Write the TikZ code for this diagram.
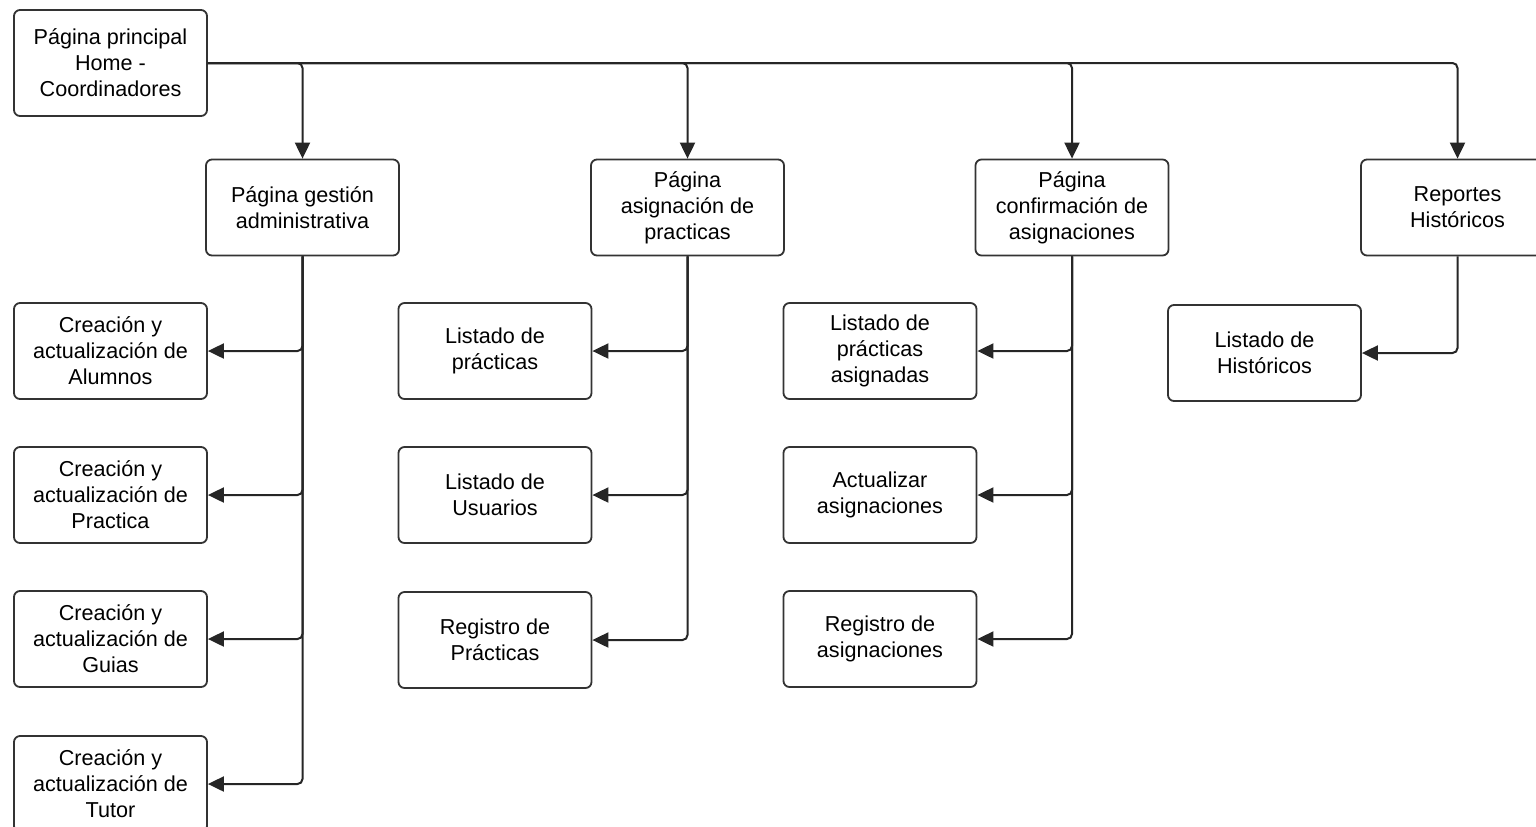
\documentclass[tikz,border=0pt]{standalone}
\usepackage{fontspec}
\setmainfont{Liberation Sans}
\usepackage{tikz}
\usetikzlibrary{arrows.meta}

\tikzset{
  caja/.style={draw=black!80,line width=0.9pt,rounded corners=3pt,fill=white,
    minimum width=96.5pt,minimum height=48pt,inner sep=0pt,align=center,
    font=\fontsize{10.8}{13}\selectfont},
  flecha/.style={draw=black!85,line width=1pt,rounded corners=2.5pt,
    arrows={-Triangle[length=8pt,width=7.5pt]}}
}

\begin{document}
\begin{tikzpicture}[x=0.5pt,y=-0.5pt]
    \clip (0,0) rectangle (1536,826);
    \fill[white] (0,0) rectangle (1536,826);
    % nivel 1
    \node[caja,minimum height=53pt] (home) at (110.5,63) {Página principal\\Home -\\Coordinadores};
    % nivel 2
    \node[caja] (gestion) at (302.5,207.5) {Página gestión\\administrativa};
    \node[caja] (asignacion) at (687.5,207.5) {Página\\asignación de\\practicas};
    \node[caja] (confirmacion) at (1072,207.5) {Página\\confirmación de\\asignaciones};
    \node[caja] (reportes) at (1457.5,207.5) {Reportes\\Históricos};
    % hijos de gestion
    \node[caja] (alumnos) at (110.5,351) {Creación y\\actualización de\\Alumnos};
    \node[caja] (practica) at (110.5,495) {Creación y\\actualización de\\Practica};
    \node[caja] (guias) at (110.5,639) {Creación y\\actualización de\\Guias};
    \node[caja] (tutor) at (110.5,784) {Creación y\\actualización de\\Tutor};
    % hijos de asignacion
    \node[caja] (listPract) at (495,351) {Listado de\\prácticas};
    \node[caja] (listUsu) at (495,495) {Listado de\\Usuarios};
    \node[caja] (regPract) at (495,640) {Registro de\\Prácticas};
    % hijos de confirmacion
    \node[caja] (listAsig) at (880,351) {Listado de\\prácticas\\asignadas};
    \node[caja] (actAsig) at (880,495) {Actualizar\\asignaciones};
    \node[caja] (regAsig) at (880,639) {Registro de\\asignaciones};
    % hijos de reportes
    \node[caja] (listHist) at (1264.5,353) {Listado de\\Históricos};

    \foreach \n in {gestion,asignacion,confirmacion,reportes}
      \draw[flecha] (home.east) -| (\n.north);
    \foreach \n in {alumnos,practica,guias,tutor}
      \draw[flecha] (gestion.south) |- (\n.east);
    \foreach \n in {listPract,listUsu,regPract}
      \draw[flecha] (asignacion.south) |- (\n.east);
    \foreach \n in {listAsig,actAsig,regAsig}
      \draw[flecha] (confirmacion.south) |- (\n.east);
    \draw[flecha] (reportes.south) |- (listHist.east);
\end{tikzpicture}
\end{document}
